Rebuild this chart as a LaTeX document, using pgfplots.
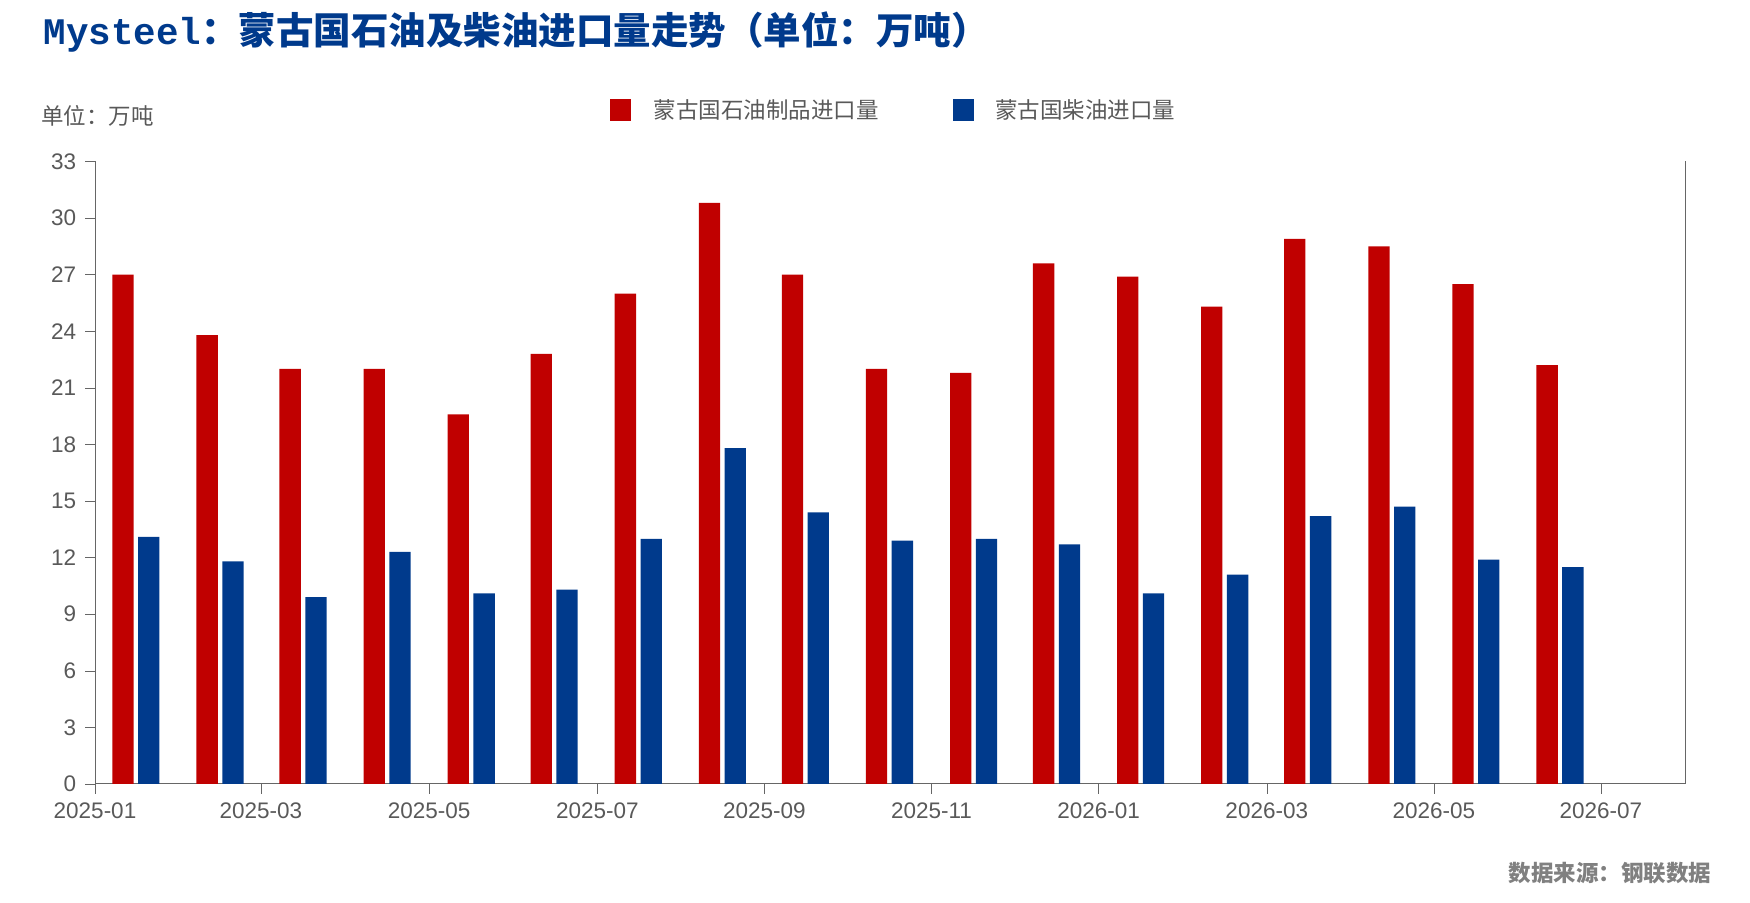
\documentclass[border=0pt]{standalone}
\usepackage{pgfplots}
\pgfplotsset{compat=1.18}
\usepackage{fontspec}
\setmainfont{Liberation Sans}
\newfontfamily\cjk{Noto Sans CJK SC}
\newfontfamily\mono{Liberation Mono}
\definecolor{myred}{HTML}{C00000}
\definecolor{myblue}{HTML}{003A8C}
\definecolor{tgray}{HTML}{595959}
\begin{document}
\begin{tikzpicture}
\path (0,0) rectangle (700pt,360.8pt);
\node[anchor=west,text=myblue,font=\cjk\bfseries\fontsize{15}{18}\selectfont] at (14pt,348pt) {{\mono\bfseries Mysteel}：蒙古国石油及柴油进口量走势（单位：万吨）};
\node[anchor=west,text=tgray,font=\cjk\fontsize{9}{11}\selectfont] at (13pt,314.6pt) {单位：万吨};
\fill[myred] (244pt,312.5pt) rectangle (252.5pt,321pt);
\node[anchor=west,text=tgray,font=\cjk\fontsize{9}{11}\selectfont] at (258pt,316.8pt) {蒙古国石油制品进口量};
\fill[myblue] (381pt,312.5pt) rectangle (389.5pt,321pt);
\node[anchor=west,text=tgray,font=\cjk\fontsize{9}{11}\selectfont] at (394.5pt,316.8pt) {蒙古国柴油进口量};
\node[anchor=east,text=gray,font=\cjk\bfseries\fontsize{9}{11}\selectfont] at (688pt,11.7pt) {数据来源：钢联数据};
\begin{axis}[at={(38pt,47.2pt)},anchor=south west,scale only axis,width=636pt,height=249pt,
 xmin=85,xmax=1503,ymin=0,ymax=33,
 axis x line=bottom, axis y line=left, axis line style={-,gray!80!black},
 xtick={85,233,383,533,682,831,980,1130,1279,1428},
 xticklabels={2025-01,2025-03,2025-05,2025-07,2025-09,2025-11,2026-01,2026-03,2026-05,2026-07},
 ytick={0,3,...,33},
 tick style={gray!80!black}, tick align=outside, major tick length=4pt,
 ticklabel style={text=tgray,font=\fontsize{9}{11}\selectfont},
 /pgf/number format/assume math mode=true,
 ybar, bar width=19, clip=false]
\addplot[fill=myred,draw=none,bar shift=0] coordinates {
(110,27.0)(185,23.8)(259,22.0)(334,22.0)(409,19.6)(483,22.8)(558,26.0)(633,30.8)(707,27.0)(782,22.0)(857,21.8)(931,27.6)(1006,26.9)(1081,25.3)(1155,28.9)(1230,28.5)(1305,26.5)(1380,22.2)};
\addplot[fill=myblue,draw=none,bar shift=0] coordinates {
(133,13.1)(208,11.8)(282,9.9)(357,12.3)(432,10.1)(506,10.3)(581,13.0)(656,17.8)(730,14.4)(805,12.9)(880,13.0)(954,12.7)(1029,10.1)(1104,11.1)(1178,14.2)(1253,14.7)(1328,11.9)(1403,11.5)};
\draw[gray!80!black] (rel axis cs:1,0) -- (rel axis cs:1,1);
\end{axis}
\end{tikzpicture}
\end{document}
